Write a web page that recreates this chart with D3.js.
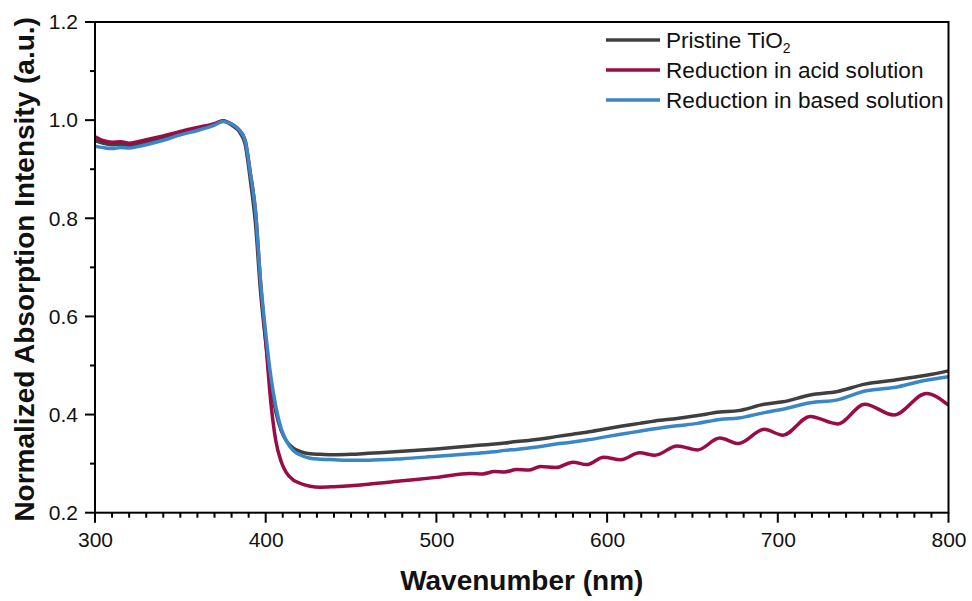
<!DOCTYPE html>
<html>
<head>
<meta charset="utf-8">
<script src="https://cdn.jsdelivr.net/npm/d3@7"></script>
<style>
  body { margin: 0; background: #fff; }
  svg { font-family: "Liberation Sans", Arial, sans-serif; }
</style>
</head>
<body>
<div id="chart"></div>
<script>
// wavelength grid (nm) shared by all three spectra
var wavelength = [300,305,310,315,320,325,330,340,350,360,370,375,380,385,388,391,394,397,400,403,406,409,412,416,420,426,432,440,450,460,480,500,520,527,534,540,547,554,561,570,580,588,598,608,619,628,641,653,666,677,692,703,719,735,751,768,787,800];

var pristine = [0.958,0.953,0.950,0.951,0.948,0.951,0.955,0.963,0.973,0.982,0.991,0.998,0.990,0.974,0.950,0.878,0.790,0.650,0.548,0.462,0.405,0.368,0.347,0.332,0.325,0.320,0.319,0.318,0.319,0.321,0.325,0.330,0.336,0.338,0.340,0.342,0.345,0.347,0.350,0.355,0.360,0.364,0.370,0.376,0.382,0.387,0.392,0.398,0.405,0.408,0.421,0.426,0.440,0.447,0.462,0.470,0.480,0.489];

var acid = [0.966,0.958,0.955,0.956,0.953,0.956,0.960,0.968,0.977,0.985,0.993,0.999,0.992,0.978,0.958,0.892,0.815,0.668,0.550,0.425,0.345,0.305,0.282,0.267,0.260,0.254,0.252,0.253,0.255,0.258,0.265,0.272,0.280,0.279,0.284,0.283,0.288,0.287,0.294,0.292,0.303,0.298,0.313,0.308,0.322,0.317,0.336,0.328,0.352,0.341,0.370,0.358,0.396,0.381,0.421,0.399,0.443,0.419];

var based = [0.947,0.944,0.942,0.944,0.943,0.946,0.950,0.959,0.970,0.979,0.990,0.997,0.992,0.978,0.958,0.892,0.815,0.672,0.566,0.478,0.415,0.372,0.347,0.327,0.318,0.311,0.309,0.308,0.307,0.307,0.310,0.315,0.320,0.322,0.324,0.327,0.329,0.332,0.335,0.340,0.344,0.348,0.354,0.360,0.366,0.371,0.377,0.382,0.390,0.393,0.404,0.411,0.424,0.430,0.448,0.455,0.470,0.477];

var seriesNames = ["Pristine TiO", "Reduction in acid solution", "Reduction in based solution"];
var seriesColors = ["#3f3f3f", "#9a0c45", "#3b86c6"];
var xTicks = [300, 400, 500, 600, 700, 800];
var yTicks = [0.2, 0.4, 0.6, 0.8, 1.0, 1.2];

var width = 972, height = 601;
var margin = {top: 22, right: 23.5, bottom: 88.3, left: 95};
var innerW = width - margin.left - margin.right;
var innerH = height - margin.top - margin.bottom;

var svg = d3.select("#chart").append("svg")
  .attr("width", width)
  .attr("height", height);

var g = svg.append("g")
  .attr("transform", "translate(" + margin.left + "," + margin.top + ")");

var x = d3.scaleLinear().domain([300, 800]).range([0, innerW]);
var y = d3.scaleLinear().domain([0.2, 1.2]).range([innerH, 0]);

// tick marks (outward), minor every 10 nm / 0.1
var xMinor = d3.range(300, 801, 10);
var yMinor = d3.range(2, 13).map(function(d) { return d / 10; });

var tickG = g.append("g").attr("stroke", "#000").attr("stroke-width", 2);
tickG.selectAll("line.xt").data(xMinor).enter().append("line")
  .attr("class", "xt")
  .attr("x1", function(d) { return x(d); })
  .attr("x2", function(d) { return x(d); })
  .attr("y1", innerH)
  .attr("y2", function(d) { return innerH + (d % 100 === 0 ? 10 : 5); });
tickG.selectAll("line.yt").data(yMinor).enter().append("line")
  .attr("class", "yt")
  .attr("y1", function(d) { return y(d); })
  .attr("y2", function(d) { return y(d); })
  .attr("x1", 0)
  .attr("x2", function(d, i) { return i % 2 === 0 ? -10 : -5; });

// tick labels through d3 axes
var xAxis = g.append("g")
  .attr("transform", "translate(0," + innerH + ")")
  .call(d3.axisBottom(x).tickValues(xTicks).tickSize(0).tickPadding(19).tickFormat(d3.format("d")));
xAxis.select(".domain").remove();
xAxis.selectAll("text").attr("font-size", 21).attr("fill", "#111")
  .attr("font-family", "'Liberation Sans', Arial, sans-serif");

var yAxis = g.append("g")
  .call(d3.axisLeft(y).tickValues(yTicks).tickSize(0).tickPadding(17).tickFormat(d3.format(".1f")));
yAxis.select(".domain").remove();
yAxis.selectAll("text").attr("font-size", 21).attr("fill", "#111")
  .attr("font-family", "'Liberation Sans', Arial, sans-serif");

// spectra
var data = [pristine, acid, based].map(function(vals) {
  return vals.map(function(v, i) { return {nm: wavelength[i], v: v}; });
});

var line = d3.line()
  .x(function(d) { return x(d.nm); })
  .y(function(d) { return y(d.v); })
  .curve(d3.curveMonotoneX);

g.append("defs").append("clipPath").attr("id", "clip")
  .append("rect").attr("width", innerW).attr("height", innerH);

g.append("g").attr("clip-path", "url(#clip)")
  .selectAll("path.spec")
  .data(data)
  .enter().append("path")
  .attr("class", "spec")
  .attr("d", line)
  .attr("fill", "none")
  .attr("stroke", function(d, i) { return seriesColors[i]; })
  .attr("stroke-width", 3.5)
  .attr("stroke-linejoin", "round");

// frame
g.append("rect")
  .attr("width", innerW)
  .attr("height", innerH)
  .attr("fill", "none")
  .attr("stroke", "#000")
  .attr("stroke-width", 2);

// legend
var legend = svg.append("g").attr("transform", "translate(606,40)");
var rows = legend.selectAll("g.row").data(seriesNames).enter().append("g")
  .attr("class", "row")
  .attr("transform", function(d, i) { return "translate(0," + (i * 30) + ")"; });
rows.append("line")
  .attr("x1", 0).attr("x2", 54)
  .attr("stroke", function(d, i) { return seriesColors[i]; })
  .attr("stroke-width", 3.5);
var lt = rows.append("text")
  .attr("x", 60).attr("y", 7.8)
  .attr("font-size", 22.6)
  .attr("fill", "#111")
  .text(function(d) { return d; });
lt.filter(function(d, i) { return i === 0; })
  .append("tspan").attr("font-size", 14).attr("dy", 5).text("2");

// axis titles
svg.append("text")
  .attr("x", margin.left + innerW / 2)
  .attr("y", 590)
  .attr("text-anchor", "middle")
  .attr("font-size", 28)
  .attr("font-weight", "bold")
  .attr("fill", "#111")
  .text("Wavenumber (nm)");

svg.append("text")
  .attr("transform", "translate(34," + (margin.top + innerH / 2 + 2) + ") rotate(-90)")
  .attr("text-anchor", "middle")
  .attr("font-size", 28)
  .attr("font-weight", "bold")
  .attr("fill", "#111")
  .text("Normalized Absorption Intensity (a.u.)");
</script>
</body>
</html>
